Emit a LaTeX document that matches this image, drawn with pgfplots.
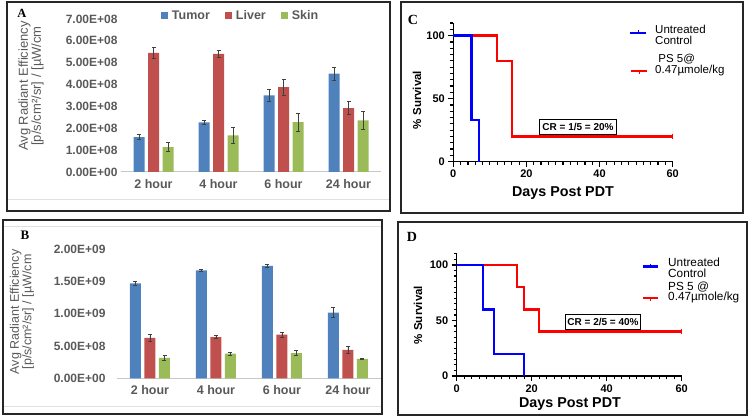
\documentclass[border=0pt]{standalone}
\usepackage{pgfplots}
\pgfplotsset{compat=1.18}
\usepackage{fontspec}
\setmainfont{Liberation Sans}
\newfontfamily\tnr{Liberation Serif}
\definecolor{tumor}{HTML}{4F81BD}
\definecolor{liver}{HTML}{C0504D}
\definecolor{skin}{HTML}{9BBB59}
\definecolor{xlg}{HTML}{595959}
\definecolor{errc}{HTML}{404040}
\newcommand{\fs}[1]{\fontsize{#1}{#1}\selectfont}
\pgfplotsset{
  excelbar/.style={scale only axis, anchor=south west, ybar, bar width=11pt, ybar=3.5pt,
    xmin=-0.5, xmax=3.5, xtick={0,1,2,3}, xticklabels={2 hour,4 hour,6 hour,24 hour},
    axis lines*=left, separate axis lines, y axis line style={draw=none},
    x axis line style={draw=black!22, line width=1pt, -},
    major tick length=0pt, tick style={draw=none},
    yticklabel style={font=\bfseries\fs{12}, text=xlg},
    xticklabel style={font=\bfseries\fs{12.5}, text=xlg, yshift=-4pt},
    clip=false,
    error bars/y dir=both, error bars/y explicit,
    error bars/error bar style={errc, line width=0.8pt},
    error bars/error mark options={errc, line width=0.8pt, rotate=90, mark size=2pt},
  },
  kmaxis/.style={scale only axis, anchor=south west, xmin=0, xmax=60, ymin=0, ymax=110,
    axis lines*=left, axis line style={-, line width=1.4pt},
    tick align=outside, xtick={0,20,40,60}, ytick={0,50,100},
    minor xtick={0,2,...,60}, minor ytick={0,5,...,110},
    major tick length=5pt, minor tick length=3pt,
    every tick/.style={line width=1.2pt, black},
    ticklabel style={font=\bfseries\fs{11}},
    /pgf/number format/assume math mode=true, clip=false},
}
\begin{document}
\begin{tikzpicture}[x=1pt,y=1pt]
\path[use as bounding box] (0,0) rectangle (750,417);
% ---------- Panel A ----------
\draw[line width=1.1pt, black!85] (7,206) rectangle (390,415);
\draw[black!12, line width=1pt] (8,217) -- (389,217);
\begin{axis}[excelbar, at={(121pt,245pt)}, width=260pt, height=153pt, ymin=0, ymax=7,
  ytick={0,1,...,7},
  yticklabels={\textbf{0.00E+00},\textbf{1.00E+08},\textbf{2.00E+08},\textbf{3.00E+08},\textbf{4.00E+08},\textbf{5.00E+08},\textbf{6.00E+08},\textbf{7.00E+08}},
  legend columns=3,
  legend image code/.code={\fill[#1] (0pt,-3.5pt) rectangle (7pt,3.5pt);},
  legend style={draw=none, fill=none, at={(0.46,1.02)}, anchor=center,
    font=\bfseries\fs{12.5}, text=xlg,
    /tikz/every odd column/.append style={column sep=2pt},
    /tikz/every even column/.append style={column sep=13pt}}]
\addplot[fill=tumor, draw=none] coordinates {(0,1.6) +- (0,0.11) (1,2.27) +- (0,0.11) (2,3.5) +- (0,0.28) (3,4.5) +- (0,0.3)};
\addplot[fill=liver, draw=none] coordinates {(0,5.45) +- (0,0.23) (1,5.4) +- (0,0.17) (2,3.88) +- (0,0.36) (3,2.92) +- (0,0.3)};
\addplot[fill=skin, draw=none] coordinates {(0,1.14) +- (0,0.21) (1,1.68) +- (0,0.37) (2,2.28) +- (0,0.4) (3,2.36) +- (0,0.41)};
\legend{Tumor,Liver,Skin}
\end{axis}
\node[rotate=90, align=center, text=xlg, font=\fs{13}, inner sep=0pt] at (31,331)
  {Avg Radiant Efficiency\\{[}p/s/cm²/sr{]} / {[}µW/cm};
\node[font=\tnr\bfseries\fs{12.5}] at (22,404) {A};
% ---------- Panel B ----------
\draw[line width=1.1pt, black!85] (3,3) rectangle (382,197);
\draw[black!12, line width=1pt] (4,190) -- (381,190);
\draw[black!12, line width=1pt] (4,10) -- (381,10);
\begin{axis}[excelbar, at={(117pt,38.7pt)}, width=264pt, height=129.3pt, ymin=0, ymax=2,
  ytick={0,0.5,1,1.5,2},
  yticklabels={\textbf{0.00E+00},\textbf{5.00E+08},\textbf{1.00E+09},\textbf{1.50E+09},\textbf{2.00E+09}},
  yticklabel style={xshift=-8pt}]
\addplot[fill=tumor, draw=none] coordinates {(0,1.47) +- (0,0.035) (1,1.67) +- (0,0.02) (2,1.74) +- (0,0.025) (3,1.015) +- (0,0.075)};
\addplot[fill=liver, draw=none] coordinates {(0,0.625) +- (0,0.06) (1,0.635) +- (0,0.025) (2,0.675) +- (0,0.04) (3,0.44) +- (0,0.05)};
\addplot[fill=skin, draw=none] coordinates {(0,0.315) +- (0,0.04) (1,0.38) +- (0,0.028) (2,0.39) +- (0,0.04) (3,0.30) +- (0,0.015)};
\end{axis}
\node[rotate=90, align=center, text=xlg, font=\fs{12.5}, inner sep=0pt] at (22,105)
  {Avg Radiant Efficiency\\{[}p/s/cm²/sr{]} / {[}µW/cm};
\node[font=\tnr\bfseries\fs{13}] at (25,182) {B};
% ---------- Panel C ----------
\draw[line width=1.1pt, black!85] (401,204) rectangle (743,415);
\begin{axis}[kmaxis, at={(453.3pt,255.3pt)}, width=219.4pt, height=138.6pt]
\addplot[const plot mark left, red, line width=2.4pt, mark=|, mark indices={4}, mark size=2.5pt, mark options={line width=1.2pt}] coordinates {(0,100) (12,80) (16,20) (60,20)};
\addplot[const plot mark left, blue, line width=2.4pt] coordinates {(0,100) (5,33.3) (7,0)};
\end{axis}
\node[font=\bfseries\fs{11.5}, rotate=90] at (417,317) {\% Survival};
\node[font=\bfseries\fs{14.3}] at (563,224) {Days Post PDT};
\node[font=\tnr\bfseries\fs{14}] at (413,397) {C};
\node[draw, line width=1.1pt, fill=white, font=\bfseries\fs{10}, minimum width=77pt, minimum height=15pt, inner sep=1pt] at (578,290) {CR = 1/5 = 20\%};
\draw[blue, line width=2.4pt] (630,383.7) -- (646,383.7);
\draw[blue, line width=1pt] (638,383.7) -- (638,386.5);
\draw[red, line width=2.4pt] (631,346) -- (647,346);
\draw[red, line width=1pt] (639,346) -- (639,343.2);
\node[anchor=west, font=\fs{11.5}, align=left, inner sep=0pt] at (655,382) {Untreated\\[-1pt]Control};
\node[anchor=west, font=\fs{11.5}, align=left, inner sep=0pt] at (655,352) {\ PS 5@\\[-1pt]0.47µmole/kg};
% ---------- Panel D ----------
\draw[line width=1.1pt, black!85] (398,2) rectangle (747,195);
\begin{axis}[kmaxis, at={(456.7pt,41pt)}, width=225pt, height=122.1pt]
\addplot[const plot mark left, red, line width=2.4pt, mark=|, mark indices={5}, mark size=2.5pt, mark options={line width=1.2pt}] coordinates {(0,100) (16,80) (18,60) (22,40) (60,40)};
\addplot[const plot mark left, blue, line width=2.4pt] coordinates {(0,100) (7,60) (10,20) (18,0)};
\end{axis}
\node[font=\bfseries\fs{11.5}, rotate=90] at (418,102) {\% Survival};
\node[font=\bfseries\fs{14.3}] at (570,13) {Days Post PDT};
\node[font=\tnr\bfseries\fs{14}] at (412,180) {D};
\node[draw, line width=1.1pt, fill=white, font=\bfseries\fs{10}, minimum width=75pt, minimum height=15pt, inner sep=1pt] at (603,95) {CR = 2/5 = 40\%};
\draw[blue, line width=2.4pt] (643,150.3) -- (658,150.3);
\draw[blue, line width=1pt] (650.5,150.3) -- (650.5,153);
\draw[red, line width=2.4pt] (643,118.7) -- (658,118.7);
\draw[red, line width=1pt] (650.5,118.7) -- (650.5,116);
\node[anchor=west, font=\fs{11.8}, align=left, inner sep=0pt] at (668,149.5) {Untreated\\[-1pt]Control};
\node[anchor=west, font=\fs{11.8}, align=left, inner sep=0pt] at (668,124.6) {PS 5 @\\[-1pt]0.47µmole/kg};
\end{tikzpicture}
\end{document}
